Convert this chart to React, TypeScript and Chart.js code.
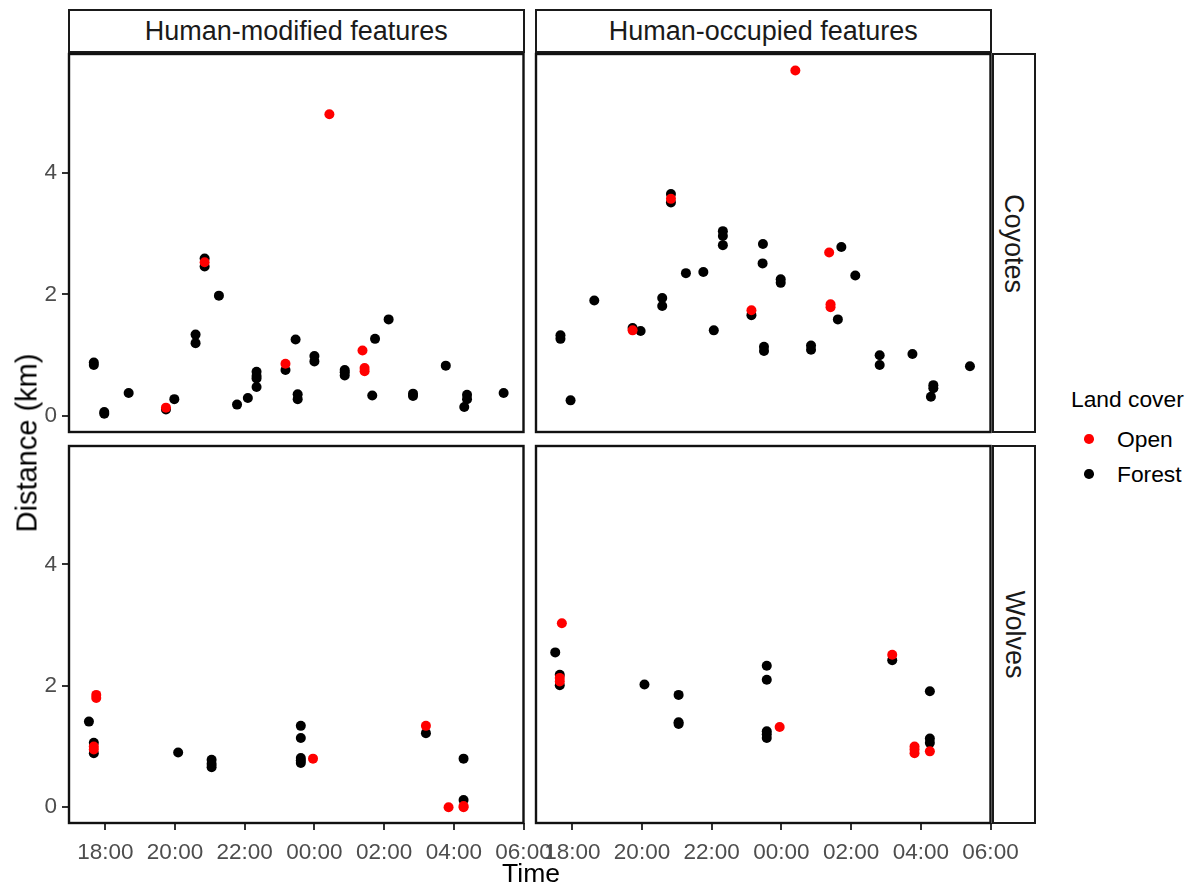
import React, { useEffect, useRef } from "react";
import { Chart, registerables } from "chart.js";

Chart.register(...registerables);

const FONT = "'Liberation Sans', Arial, Helvetica, sans-serif";

// ---- Facets / categories ----
const facetColumns = ["Human-modified features", "Human-occupied features"];
const facetRows = ["Coyotes", "Wolves"];
const landCovers = ["Open", "Forest"];
const landCoverColors = ["#FF0000", "#000000"];

// ---- Axis ticks ----
const timeTicks = [18, 20, 22, 24, 26, 28, 30];
const timeTickLabels = ["18:00", "20:00", "22:00", "00:00", "02:00", "04:00", "06:00"];
const distanceTicks = [0, 2, 4];
const distanceTickLabels = ["0", "2", "4"];
const timeRange = [16.958, 30];
const distanceRange = [-0.26, 5.95];

// ---- Data (time in hours since midnight of the first day; km) ----
// Coyotes – Human-modified features
const coyModOpenTime = [19.74, 20.85, 23.17, 24.43, 25.38, 25.44, 25.44];
const coyModOpenDist = [0.14, 2.53, 0.86, 4.96, 1.08, 0.79, 0.74];
const coyModForestTime = [17.67, 17.67, 17.97, 17.97, 18.67, 19.74, 19.98, 20.59, 20.59, 20.85, 20.85, 21.26, 21.78, 22.09, 22.34, 22.34, 22.34, 22.34, 23.17, 23.46, 23.52, 23.52, 24.0, 24.0, 24.87, 24.87, 24.87, 25.66, 25.74, 26.13, 26.83, 26.83, 27.77, 28.3, 28.38, 28.38, 29.43];
const coyModForestDist = [0.88, 0.84, 0.04, 0.07, 0.38, 0.11, 0.28, 1.34, 1.2, 2.59, 2.46, 1.98, 0.19, 0.3, 0.73, 0.66, 0.62, 0.48, 0.76, 1.26, 0.36, 0.28, 0.99, 0.9, 0.76, 0.72, 0.67, 0.34, 1.27, 1.59, 0.37, 0.33, 0.83, 0.15, 0.35, 0.28, 0.38];

// Coyotes – Human-occupied features
const coyOccOpenTime = [19.73, 20.83, 23.14, 24.4, 25.37, 25.41, 25.41];
const coyOccOpenDist = [1.41, 3.57, 1.74, 5.68, 2.69, 1.84, 1.79];
const coyOccForestTime = [17.66, 17.66, 17.95, 18.63, 19.73, 19.96, 20.58, 20.58, 20.83, 20.83, 21.26, 21.76, 22.06, 22.32, 22.32, 22.32, 23.14, 23.47, 23.46, 23.5, 23.5, 23.98, 23.98, 24.85, 24.85, 25.72, 25.62, 26.12, 26.82, 26.82, 27.76, 28.29, 28.36, 28.36, 29.41];
const coyOccForestDist = [1.33, 1.27, 0.26, 1.9, 1.45, 1.4, 1.94, 1.81, 3.65, 3.51, 2.35, 2.37, 1.41, 3.04, 2.96, 2.81, 1.66, 2.83, 2.51, 1.14, 1.07, 2.25, 2.19, 1.16, 1.09, 2.78, 1.59, 2.31, 1.0, 0.84, 1.02, 0.32, 0.51, 0.46, 0.82];

// Wolves – Human-modified features
const wolfModOpenTime = [17.74, 17.74, 17.67, 17.67, 23.96, 27.2, 27.85, 28.28, 28.28];
const wolfModOpenDist = [1.85, 1.8, 1.0, 0.95, 0.8, 1.34, 0.0, 0.0, 0.02];
const wolfModForestTime = [17.53, 17.67, 17.67, 20.09, 21.05, 21.05, 21.05, 23.61, 23.61, 23.61, 23.61, 23.61, 27.2, 28.28, 28.28];
const wolfModForestDist = [1.41, 1.06, 0.89, 0.9, 0.78, 0.71, 0.66, 1.34, 1.14, 0.81, 0.77, 0.73, 1.22, 0.8, 0.12];

// Wolves – Human-occupied features
const wolfOccOpenTime = [17.7, 17.64, 17.64, 23.95, 27.18, 27.82, 27.82, 27.82, 28.26];
const wolfOccOpenDist = [3.03, 2.13, 2.07, 1.32, 2.51, 1.0, 0.95, 0.89, 0.92];
const wolfOccForestTime = [17.51, 17.64, 17.64, 20.07, 21.05, 21.05, 21.05, 23.58, 23.58, 23.58, 23.58, 23.58, 27.18, 28.26, 28.26, 28.26];
const wolfOccForestDist = [2.55, 2.18, 2.01, 2.02, 1.85, 1.4, 1.37, 2.33, 2.1, 1.25, 1.2, 1.14, 2.42, 1.91, 1.13, 1.06];

const toPoints = (xs: number[], ys: number[]) => xs.map((x, i) => ({ x, y: ys[i] }));

const panelBorder = {
  id: "panelBorder",
  afterDatasetsDraw(chart: any) {
    const { ctx, chartArea: a } = chart;
    ctx.save();
    ctx.strokeStyle = "#111111";
    ctx.lineWidth = 2.4;
    ctx.strokeRect(a.left, a.top, a.right - a.left, a.bottom - a.top);
    ctx.restore();
  },
};

type PanelProps = {
  left: number;
  top: number;
  width: number;
  height: number;
  padding: { left: number; right: number; top: number; bottom: number };
  showX: boolean;
  showY: boolean;
  openX: number[];
  openY: number[];
  forestX: number[];
  forestY: number[];
};

function Panel(p: PanelProps) {
  const ref = useRef<HTMLCanvasElement | null>(null);
  useEffect(() => {
    if (!ref.current) return;
    const tickFont = { family: FONT, size: 22.5 };
    const grid = {
      drawOnChartArea: false,
      drawTicks: true,
      tickLength: 7,
      color: "#333333",
      lineWidth: 2,
    };
    const chart = new Chart(ref.current, {
      type: "scatter",
      data: {
        datasets: [
          {
            label: landCovers[0],
            data: toPoints(p.openX, p.openY),
            backgroundColor: landCoverColors[0],
            borderWidth: 0,
            pointRadius: 5,
            pointHoverRadius: 5,
          },
          {
            label: landCovers[1],
            data: toPoints(p.forestX, p.forestY),
            backgroundColor: landCoverColors[1],
            borderWidth: 0,
            pointRadius: 5,
            pointHoverRadius: 5,
          },
        ],
      },
      options: {
        animation: false,
        responsive: false,
        events: [],
        layout: { padding: p.padding },
        plugins: { legend: { display: false }, tooltip: { enabled: false } },
        scales: {
          x: {
            type: "linear",
            min: timeRange[0],
            max: timeRange[1],
            display: p.showX,
            afterBuildTicks: (axis: any) => {
              axis.ticks = timeTicks.map((v) => ({ value: v }));
            },
            afterFit: (s: any) => {
              if (!p.showX) return;
              s.height = 65;
              s.paddingLeft = 0;
              s.paddingRight = 0;
            },
            ticks: {
              autoSkip: false,
              maxRotation: 0,
              minRotation: 0,
              padding: 9,
              color: "#4d4d4d",
              font: tickFont,
              callback: (v: any) => {
                const i = timeTicks.indexOf(Number(v));
                return i >= 0 ? timeTickLabels[i] : "";
              },
            },
            grid,
            border: { display: false },
          },
          y: {
            type: "linear",
            min: distanceRange[0],
            max: distanceRange[1],
            display: p.showY,
            afterBuildTicks: (axis: any) => {
              axis.ticks = distanceTicks.map((v) => ({ value: v }));
            },
            afterFit: (s: any) => {
              if (!p.showY) return;
              s.width = 69;
              s.paddingTop = 0;
              s.paddingBottom = 0;
            },
            ticks: {
              autoSkip: false,
              padding: 5,
              color: "#4d4d4d",
              font: tickFont,
              callback: (v: any) => {
                const i = distanceTicks.indexOf(Number(v));
                return i >= 0 ? distanceTickLabels[i] : "";
              },
            },
            grid,
            border: { display: false },
          },
        },
      },
      plugins: [panelBorder],
    } as any);
    return () => chart.destroy();
  }, []);
  return (
    <canvas
      ref={ref}
      width={p.width}
      height={p.height}
      style={{ position: "absolute", left: p.left, top: p.top, width: p.width, height: p.height }}
    />
  );
}

const stripBase: React.CSSProperties = {
  position: "absolute",
  boxSizing: "border-box",
  border: "2px solid #1a1a1a",
  background: "#ffffff",
  display: "flex",
  alignItems: "center",
  justifyContent: "center",
  fontFamily: FONT,
  fontSize: 27,
  color: "#1a1a1a",
  whiteSpace: "nowrap",
};

export default function App() {
  return (
    <div
      style={{
        position: "absolute",
        left: 0,
        top: 0,
        width: 1194,
        height: 888,
        background: "#ffffff",
        overflow: "hidden",
        fontFamily: FONT,
      }}
    >
      {/* column strips */}
      <div style={{ ...stripBase, left: 68, top: 9, width: 456.5, height: 44 }}>{facetColumns[0]}</div>
      <div style={{ ...stripBase, left: 535, top: 9, width: 456.5, height: 44 }}>{facetColumns[1]}</div>
      {/* row strips */}
      <div style={{ ...stripBase, left: 991.5, top: 53, width: 44.5, height: 380 }}>
        <span style={{ display: "inline-block", transform: "rotate(90deg)" }}>{facetRows[0]}</span>
      </div>
      <div style={{ ...stripBase, left: 991.5, top: 445, width: 44.5, height: 379 }}>
        <span style={{ display: "inline-block", transform: "rotate(90deg)" }}>{facetRows[1]}</span>
      </div>

      <Panel
        left={0}
        top={40}
        width={540}
        height={410}
        padding={{ left: 0, right: 16.5, top: 14, bottom: 18 }}
        showX={false}
        showY={true}
        openX={coyModOpenTime}
        openY={coyModOpenDist}
        forestX={coyModForestTime}
        forestY={coyModForestDist}
      />
      <Panel
        left={520}
        top={40}
        width={500}
        height={410}
        padding={{ left: 16, right: 29.5, top: 14, bottom: 18 }}
        showX={false}
        showY={false}
        openX={coyOccOpenTime}
        openY={coyOccOpenDist}
        forestX={coyOccForestTime}
        forestY={coyOccForestDist}
      />
      <Panel
        left={0}
        top={430}
        width={570}
        height={458}
        padding={{ left: 0, right: 46.5, top: 16, bottom: 0 }}
        showX={true}
        showY={true}
        openX={wolfModOpenTime}
        openY={wolfModOpenDist}
        forestX={wolfModForestTime}
        forestY={wolfModForestDist}
      />
      <Panel
        left={520}
        top={430}
        width={520}
        height={458}
        padding={{ left: 16, right: 49.5, top: 16, bottom: 0 }}
        showX={true}
        showY={false}
        openX={wolfOccOpenTime}
        openY={wolfOccOpenDist}
        forestX={wolfOccForestTime}
        forestY={wolfOccForestDist}
      />

      {/* axis titles */}
      <div
        style={{
          position: "absolute",
          left: 27,
          top: 443,
          transform: "translate(-50%, -50%) rotate(-90deg)",
          fontSize: 29,
          color: "#000",
          whiteSpace: "nowrap",
          lineHeight: 1,
        }}
      >
        Distance (km)
      </div>
      <div
        style={{
          position: "absolute",
          left: 531,
          top: 873,
          transform: "translate(-50%, -50%)",
          fontSize: 26.5,
          color: "#000",
          whiteSpace: "nowrap",
          lineHeight: 1,
        }}
      >
        Time
      </div>

      {/* legend */}
      <div
        style={{
          position: "absolute",
          left: 1071,
          top: 399,
          transform: "translateY(-50%)",
          fontSize: 22.8,
          color: "#000",
          whiteSpace: "nowrap",
          lineHeight: 1,
        }}
      >
        Land cover
      </div>
      {landCovers.map((lc, i) => (
        <React.Fragment key={lc}>
          <div
            style={{
              position: "absolute",
              left: 1089 - 4.8,
              top: 439 + i * 35 - 4.8,
              width: 9.6,
              height: 9.6,
              borderRadius: "50%",
              background: landCoverColors[i],
            }}
          />
          <div
            style={{
              position: "absolute",
              left: 1117,
              top: 439 + i * 35,
              transform: "translateY(-50%)",
              fontSize: 22.8,
              color: "#000",
              whiteSpace: "nowrap",
              lineHeight: 1,
            }}
          >
            {lc}
          </div>
        </React.Fragment>
      ))}
    </div>
  );
}
